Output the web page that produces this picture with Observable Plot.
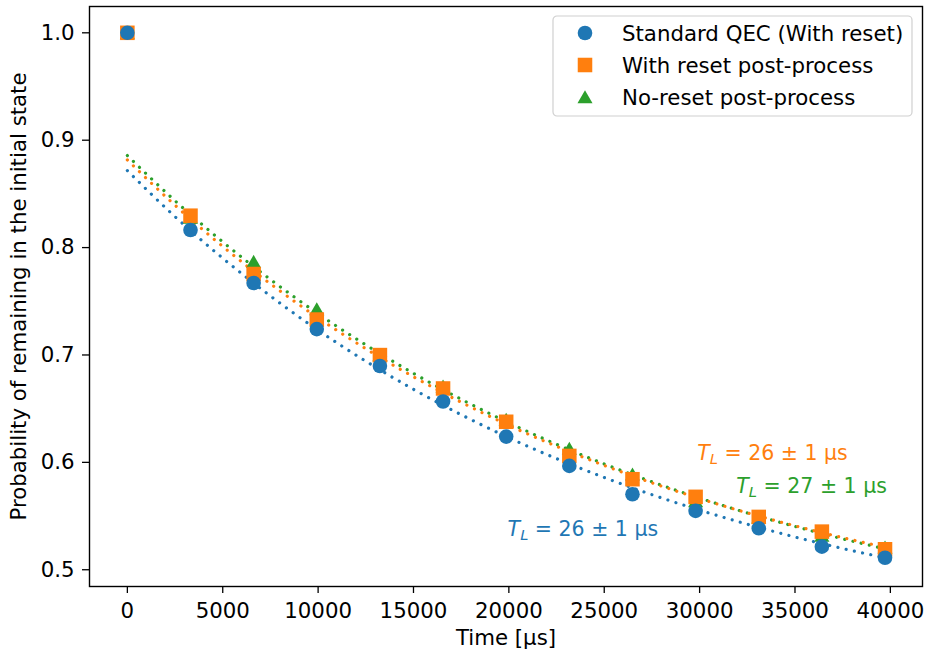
<!DOCTYPE html>
<html>
<head>
<meta charset="utf-8">
<script src="https://cdn.jsdelivr.net/npm/d3@7"></script>
<script src="https://cdn.jsdelivr.net/npm/@observablehq/plot@0.6"></script>
<style>
  html, body { margin: 0; padding: 0; background: #fff; }
  #chart { position: relative; width: 925px; height: 653px; font-family: "DejaVu Sans", sans-serif; }
</style>
</head>
<body>
<div id="chart"></div>
<script>
// ---- data ----
const times = [0, 3310, 6620, 9930, 13240, 16550, 19860, 23170, 26480, 29790, 33100, 36410, 39720];
const standardQEC = [1.0, 0.8164, 0.767, 0.7241, 0.6897, 0.6567, 0.624, 0.5967, 0.5703, 0.5548, 0.5386, 0.5215, 0.5112];
const withReset   = [1.0, 0.8297, 0.7754, 0.733, 0.6999, 0.6688, 0.6378, 0.606, 0.5843, 0.5679, 0.5492, 0.5355, 0.5191];
const noReset     = [1.0, 0.828, 0.787, 0.7428, 0.700, 0.671, 0.640, 0.613, 0.589, 0.564, 0.549, 0.532, 0.521];

// fitted decay curves (dotted)
const fitTimes = [0, 2500, 5000, 7500, 10000, 12500, 15000, 17500, 20000, 22500, 25000, 27500, 30000, 32500, 35000, 37500, 39720];
const fitStandard  = [0.8717, 0.8288, 0.7901, 0.7549, 0.7230, 0.6942, 0.6680, 0.6444, 0.6229, 0.6035, 0.5859, 0.5699, 0.5555, 0.5424, 0.5305, 0.5198, 0.5111];
const fitWithReset = [0.8816, 0.8394, 0.8010, 0.7662, 0.7345, 0.7058, 0.6797, 0.6560, 0.6344, 0.6149, 0.5971, 0.5809, 0.5663, 0.5530, 0.5409, 0.5299, 0.5210];
const fitNoReset   = [0.8857, 0.8436, 0.8053, 0.7703, 0.7384, 0.7094, 0.6829, 0.6588, 0.6368, 0.6168, 0.5985, 0.5819, 0.5667, 0.5529, 0.5403, 0.5288, 0.5195];

const seriesNames = ["Standard QEC (With reset)", "With reset post-process", "No-reset post-process"];
const seriesColors = ["#1f77b4", "#ff7f0e", "#2ca02c"];
const seriesSymbols = ["circle", "square", "triangle"];

const annotTL = ["26 ± 1", "26 ± 1", "27 ± 1"];
const annotX = [23880, 33820, 35870];
const annotY = [0.538, 0.608, 0.578];

const xTicks = [0, 5000, 10000, 15000, 20000, 25000, 30000, 35000, 40000];
const yTicks = [0.5, 0.6, 0.7, 0.8, 0.9, 1.0];

// ---- build tables ----
const pts = (vals, s) => times.map((t, i) => ({t, p: vals[i], s}));
const fit = (vals, s) => fitTimes.map((t, i) => ({t, p: vals[i], s}));
const dStd = pts(standardQEC, 0), dWR = pts(withReset, 1), dNR = pts(noReset, 2);
const fStd = fit(fitStandard, 0), fWR = fit(fitWithReset, 1), fNR = fit(fitNoReset, 2);
const annots = annotTL.map((v, i) => ({t: annotX[i], p: annotY[i], v, s: i}));

const FS = 21.3;
const lineOpts = (c) => ({x: "t", y: "p", stroke: c, strokeWidth: 3.2, strokeDasharray: "0.01,8.4", strokeLinecap: "round", curve: "monotone-x"});

const plot = Plot.plot({
  width: 925,
  height: 653,
  marginLeft: 89,
  marginRight: 3,
  marginTop: 6,
  marginBottom: 67,
  style: {fontFamily: "DejaVu Sans, sans-serif", fontSize: FS + "px", color: "#000", background: "#fff"},
  x: {domain: [-1985, 41685]},
  y: {domain: [0.4844, 1.0245]},
  marks: [
    Plot.line(fNR, lineOpts(seriesColors[2])),
    Plot.line(fWR, lineOpts(seriesColors[1])),
    Plot.line(fStd, lineOpts(seriesColors[0])),
    Plot.dot(dNR, {x: "t", y: "p", symbol: "triangle", r: 5.6, fill: seriesColors[2], dy: 2}),
    Plot.dot(dWR, {x: "t", y: "p", symbol: "square", r: 8.2, fill: seriesColors[1]}),
    Plot.dot(dStd, {x: "t", y: "p", symbol: "circle", r: 7.3, fill: seriesColors[0]}),
    Plot.text(annots, {x: "t", y: "p", text: "v", fill: (d) => seriesColors[d.s], fontSize: 20.5, textAnchor: "middle", className: "tl-annot"}),
    Plot.axisX({ticks: xTicks, tickFormat: (d) => String(d), tickSize: 7, tickPadding: 9, label: null, fontSize: FS, strokeWidth: 1.3}),
    Plot.axisY({ticks: yTicks, tickFormat: (d) => d.toFixed(1), tickSize: 7, tickPadding: 8, label: null, fontSize: FS, strokeWidth: 1.3}),
    Plot.text(["Time [µs]"], {frameAnchor: "bottom", dy: 58, fontSize: FS, textAnchor: "middle"}),
    Plot.text(["Probability of remaining in the initial state"], {frameAnchor: "left", dx: -70, rotate: -90, fontSize: FS, textAnchor: "middle"}),
    Plot.frame({stroke: "#000", strokeWidth: 1.4})
  ]
});

// Turn annotation text into "T_L = value µs" with italic T and subscript L
d3.select(plot).selectAll("g.tl-annot text").each(function () {
  const el = d3.select(this);
  const val = el.text();
  el.text(null);
  el.append("tspan").attr("font-style", "italic").text("T");
  el.append("tspan").attr("font-style", "italic").attr("font-size", "0.72em").attr("dy", "0.28em").text("L");
  el.append("tspan").attr("dy", "-0.2em").text(" = " + val + " µs");
});

// Legend (inside the plot area, upper right)
const svg = d3.select(plot);
const lg = svg.append("g").attr("transform", "translate(553,16)");
lg.append("rect").attr("width", 359).attr("height", 100).attr("rx", 4)
  .attr("fill", "#fff").attr("fill-opacity", 0.8).attr("stroke", "#d0d0d0").attr("stroke-width", 1.2);
const symMap = {circle: d3.symbolCircle, square: d3.symbolSquare, triangle: d3.symbolTriangle};
const symSize = {circle: Math.PI * 7.3 * 7.3, square: Math.PI * 8.2 * 8.2, triangle: Math.PI * 5.6 * 5.6};
seriesNames.forEach((name, i) => {
  const cy = 17 + i * 32;
  lg.append("path").attr("d", d3.symbol(symMap[seriesSymbols[i]], symSize[seriesSymbols[i]])())
    .attr("transform", `translate(32,${cy + (seriesSymbols[i] === "triangle" ? 2 : 0)})`)
    .attr("fill", seriesColors[i]);
  lg.append("text").attr("x", 69).attr("y", cy).attr("dy", "0.36em")
    .attr("text-anchor", "start")
    .attr("font-size", FS).attr("font-family", "DejaVu Sans, sans-serif").attr("fill", "#000").text(name);
});

document.getElementById("chart").appendChild(plot);
</script>
</body>
</html>
